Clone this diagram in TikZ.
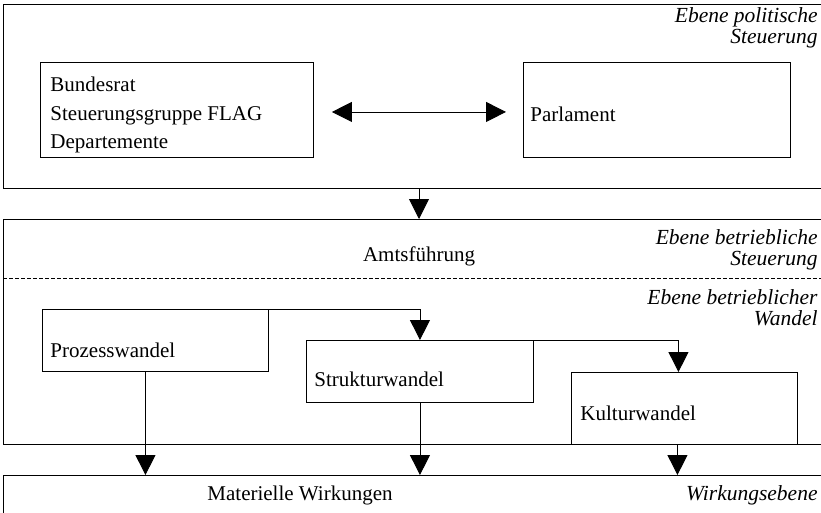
\documentclass[tikz,border=0pt]{standalone}
\usepackage{fontspec}
\setmainfont{Liberation Serif}
\usetikzlibrary{arrows.meta}
\begin{document}
\begin{tikzpicture}[x=1pt,y=-1pt,line width=0.9pt,
  panel/.style={draw,rectangle,anchor=north west,inner sep=0pt,minimum width=900pt},
  box/.style={draw,rectangle,anchor=north west,inner sep=0pt},
  arr/.style={-{Triangle[length=20pt,width=20pt]}},
  darr/.style={{Triangle[length=20pt,width=20pt]}-{Triangle[length=20pt,width=20pt]}},
  txt/.style={font=\fontsize{21}{28.5}\selectfont,inner sep=0pt},
  lvl/.style={font=\fontsize{21.5}{21}\selectfont\itshape,align=right,anchor=east,inner sep=0pt}]
\clip (0,0) rectangle (821,512);
% panels
\node[panel,minimum height=184pt] (p1) at (3,4) {};
\node[panel,minimum height=225pt] (p2) at (3,219) {};
\node[panel,minimum height=80pt] (p3) at (3,475) {};
% level labels
\node[lvl] (l1) at (818,27.5) {Ebene politische\\Steuerung};
\node[lvl] (l2) at (818,250) {Ebene betriebliche\\Steuerung};
\node[lvl] (l3) at (818,308) {Ebene betrieblicher\\Wandel};
\node[lvl] (l4) at (818,495) {Wirkungsebene};
% dashed separator
\coordinate (d1) at (3,278);
\coordinate (d2) at (830,278);
\draw[dash pattern=on 4pt off 2pt] (d1) -- (d2);
% top boxes
\node[box,minimum width=273pt,minimum height=95pt] (b1) at (40,62) {};
\node[box,minimum width=267pt,minimum height=95pt] (b2) at (523,62) {};
\node[txt,anchor=west,align=left] (t1) at ([xshift=10pt,yshift=-5pt]b1.west) {Bundesrat\\Steuerungsgruppe FLAG\\Departemente};
\node[txt,anchor=west] (t2) at (530,114) {Parlament};
\draw[darr] ([shift={(18,2)}]b1.east) -- ([shift={(-17,2)}]b2.west);
% Amtsfuehrung
\node[txt] (am) at (419,256) {Amtsführung};
\draw[arr] (p1.south -| am) -- (p2.north -| am);
% change boxes
\node[box,minimum width=226pt,minimum height=62pt] (pz) at (42,309) {};
\node[box,minimum width=227pt,minimum height=62pt] (sk) at (306,340) {};
\node[box,minimum width=226pt,minimum height=72pt] (ku) at (571,372) {};
\node[txt,anchor=west] (tp) at (50,350) {Prozesswandel};
\node[txt,anchor=west] (ts) at (314,379) {Strukturwandel};
\node[txt,anchor=west] (tk) at (580,413) {Kulturwandel};
\draw[arr] (pz.north east) -| (sk.north);
\draw[arr] (sk.north east) -| ([xshift=-6pt]ku.north);
% effects
\node[txt] (mw) at (300,495) {Materielle Wirkungen};
\draw[arr] ([xshift=-10pt]pz.south) coordinate (a1) -- (a1 |- p3.north);
\draw[arr] (sk.south) -- (sk.south |- p3.north);
\draw[arr] ([xshift=-7pt]ku.south) coordinate (a3) -- (a3 |- p3.north);
\end{tikzpicture}
\end{document}
